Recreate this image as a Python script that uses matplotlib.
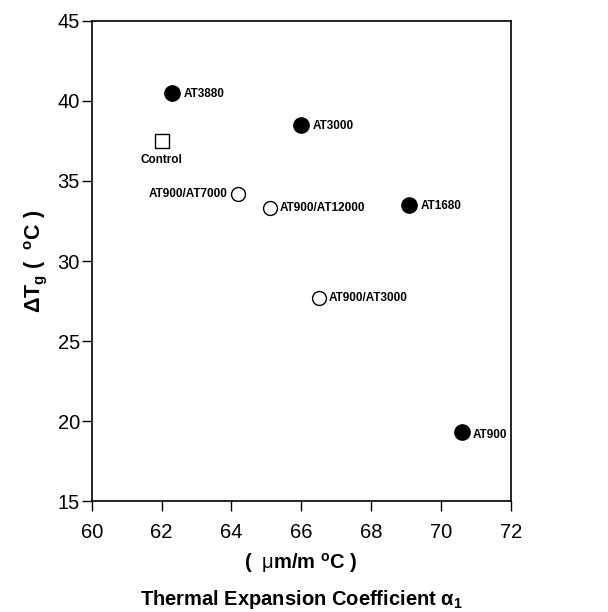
import matplotlib
matplotlib.use("Agg")
import matplotlib.pyplot as plt

# filled circles: single additive
solid_names = ['AT3880', 'AT3000', 'AT1680', 'AT900']
solid_x = [62.3, 66.0, 69.1, 70.6]
solid_y = [40.5, 38.5, 33.5, 19.3]

# open circles: blends
open_names = ['AT900/AT7000', 'AT900/AT12000', 'AT900/AT3000']
open_x = [64.2, 65.1, 66.5]
open_y = [34.2, 33.3, 27.7]

# control (open square)
ctrl_x = [62.0]
ctrl_y = [37.5]

plt.rcParams['font.family'] = ['Liberation Sans', 'DejaVu Sans']
plt.rcParams['mathtext.fontset'] = 'custom'
plt.rcParams['mathtext.rm'] = 'Liberation Sans'
plt.rcParams['mathtext.bf'] = 'Liberation Sans:bold'

fig = plt.figure(figsize=(6.08, 6.12), dpi=100)
ax = fig.add_axes([0.151, 0.181, 0.689, 0.785])

ax.plot(solid_x, solid_y, 'o', color='black', markersize=11, linestyle='none')
ax.plot(open_x, open_y, 'o', mfc='white', mec='black', mew=1.0, markersize=10, linestyle='none')
ax.plot(ctrl_x, ctrl_y, 's', mfc='white', mec='black', mew=1.0, markersize=10, linestyle='none')

lab = dict(fontsize=8.5, fontweight='bold', textcoords='offset points', va='center')
for n, x, y in zip(solid_names, solid_x, solid_y):
    ax.annotate(n, (x, y), xytext=(8, -1 if n != 'AT900' else -2), ha='left', **lab)
for n, x, y in zip(open_names, open_x, open_y):
    if n == 'AT900/AT7000':
        ax.annotate(n, (x, y), xytext=(-8, 0), ha='right', **lab)
    else:
        ax.annotate(n, (x, y), xytext=(7, 0), ha='left', **lab)
ax.annotate('Control', (ctrl_x[0], ctrl_y[0]), xytext=(0, -14), ha='center', **lab)

ax.set_xlim(60, 72)
ax.set_ylim(15, 45)
ax.set_xticks(range(60, 73, 2))
ax.set_yticks(range(15, 46, 5))
ax.tick_params(direction='out', length=7, width=1, labelsize=14.5, top=False, right=False)
ax.tick_params(axis='x', pad=9)
ax.tick_params(axis='y', pad=1.5)
for s in ax.spines.values():
    s.set_linewidth(1.2)

ax.set_xlabel('(  $\\mathrm{\\mu}$m/m $^{\\mathbf{o}}$C )\nThermal Expansion Coefficient $\\mathbf{\\alpha_1}$',
              fontsize=14.5, fontweight='bold', linespacing=1.75, labelpad=6)
ax.set_ylabel('$\\mathbf{\\Delta T_g}$ (  $^{\\mathbf{o}}$C )', fontsize=15.5, fontweight='bold', labelpad=6)

fig.savefig('out.png', dpi=100)
